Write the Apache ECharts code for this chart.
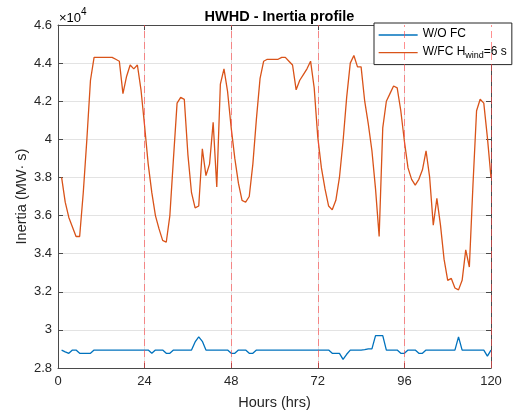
<!DOCTYPE html>
<html>
<head>
<meta charset="utf-8">
<script src="https://cdn.jsdelivr.net/npm/echarts@6/dist/echarts.min.js"></script>
<style>
  html, body { margin: 0; padding: 0; background: #ffffff; }
  #chart { width: 514px; height: 412px; }
</style>
</head>
<body>
<div id="chart"></div>
<script>
// Hourly inertia over five days (MW·s), hours 1..120
const seriesNames = ['W/O FC', 'W/FC Hwind=6 s'];

const inertiaNoFC = [
  28940, 28850, 28770, 28940, 28940, 28770, 28770, 28770, 28770, 28940,
  28940, 28940, 28940, 28940, 28940, 28940, 28940, 28940, 28940, 28940,
  28940, 28940, 28940, 28940, 28940, 28770, 28940, 28940, 28940, 28770,
  28770, 28940, 28940, 28940, 28940, 28940, 28940, 29370, 29630, 29400,
  28940, 28940, 28940, 28940, 28940, 28940, 28940, 28770, 28770, 28940,
  28940, 28940, 28770, 28770, 28940, 28940, 28940, 28940, 28940, 28940,
  28940, 28940, 28940, 28940, 28940, 28940, 28940, 28940, 28940, 28940,
  28940, 28940, 28940, 28940, 28940, 28770, 28770, 28770, 28450, 28720,
  28940, 28940, 28940, 28940, 28960, 29000, 29000, 29700, 29700, 29700,
  28940, 28940, 28940, 28940, 28770, 28770, 28940, 28940, 28940, 28770,
  28770, 28940, 28940, 28940, 28940, 28940, 28940, 28940, 28940, 28940,
  29630, 28940, 28940, 28940, 28940, 28940, 28940, 28940, 28620, 28940
];

const inertiaFC = [
  38000, 36700, 35900, 35400, 34900, 34900, 37200, 40000, 43100, 44300,
  44300, 44300, 44300, 44300, 44300, 44200, 44100, 42400, 43300, 43900,
  43700, 43900, 42600, 40700, 38700, 37200, 36000, 35300, 34700, 34600,
  36000, 39000, 41900, 42200, 42100, 39200, 37200, 36400, 36500, 39500,
  38100, 38700, 40900, 37500, 42900, 43700, 42500, 40600, 39000, 37700,
  36800, 36700, 37000, 38700, 41100, 43200, 44100, 44200, 44200, 44200,
  44200, 44300, 44300, 44100, 43900, 42600, 43100, 43400, 43700, 44100,
  42700, 40100, 38500, 37400, 36500, 36300, 36800, 38000, 39900, 42200,
  44000, 44400, 43800, 43800, 42000, 40800, 39400, 37400, 34900, 40600,
  42000, 42400, 42800, 42700, 41500, 39900, 38500, 37900, 37600, 37900,
  38400, 39400, 38000, 35500, 36900, 35500, 33700, 32600, 32700, 32200,
  32100, 32600, 34200, 33300, 37600, 41500, 42100, 41900, 40100, 38000
];

// Day boundaries (hours)
const dayMarks = [24, 48, 72, 96, 120];

const FONT = "'Liberation Sans', Arial, Helvetica, sans-serif";
const AXIS_COLOR = '#4a4a4a';
const TEXT_COLOR = '#262626';
const GRID_COLOR = '#e3e3e3';

const toPairs = arr => arr.map((v, i) => [i + 1, v]);

const chart = echarts.init(document.getElementById('chart'), null, { renderer: 'canvas' });

// Top/right axes close the box and carry inward ticks
const boxAxis = (pos) => ({
  position: pos,
  axisLine: { show: true, onZero: false, lineStyle: { color: AXIS_COLOR, width: 1 } },
  axisTick: { show: true, inside: true, length: 5, lineStyle: { color: AXIS_COLOR } },
  axisLabel: { show: false },
  splitLine: { show: false }
});

chart.setOption({
  animation: false,
  backgroundColor: '#ffffff',
  textStyle: { fontFamily: FONT },
  title: {
    text: 'HWHD - Inertia profile',
    left: 274.5,
    textAlign: 'center',
    top: 4,
    textStyle: { fontFamily: FONT, fontSize: 14.5, fontWeight: 'bold', color: '#000000' }
  },
  graphic: [{
    type: 'text',
    left: 59,
    top: 7,
    style: {
      text: '{a|×10}{b|4}',
      rich: {
        a: { fontFamily: FONT, fontSize: 13, color: TEXT_COLOR, verticalAlign: 'bottom', lineHeight: 18 },
        b: { fontFamily: FONT, fontSize: 10, color: TEXT_COLOR, verticalAlign: 'top', lineHeight: 18, padding: [0, 0, 6, 0] }
      }
    }
  }],
  grid: { left: 58, right: 23, top: 25, bottom: 44, containLabel: false, outerBoundsMode: 'none' },
  legend: {
    orient: 'vertical',
    left: 374,
    top: 23,
    data: seriesNames,
    itemWidth: 39,
    itemHeight: 14,
    itemGap: 3,
    padding: [5, 5, 5, 4],
    backgroundColor: '#ffffff',
    borderColor: '#262626',
    borderWidth: 1,
    borderRadius: 0,
    itemStyle: { opacity: 0, borderWidth: 0, color: 'transparent', borderColor: 'transparent' },
    lineStyle: { width: 1.3 },
    formatter: name => name === seriesNames[1]
      ? '{n|W/FC H}{s|wind}{n|=6 s}'
      : '{n|' + name + '}',
    textStyle: {
      fontFamily: FONT,
      fontSize: 12,
      color: '#000000',
      rich: {
        n: { fontFamily: FONT, fontSize: 12, color: '#000000', lineHeight: 14, verticalAlign: 'top' },
        s: { fontFamily: FONT, fontSize: 9, color: '#000000', lineHeight: 10, verticalAlign: 'bottom', padding: [7, 0, 0, 0] }
      }
    }
  },
  xAxis: [
    {
      type: 'value', min: 0, max: 120, interval: 24, position: 'bottom',
      axisLine: { show: true, onZero: false, lineStyle: { color: AXIS_COLOR, width: 1 } },
      axisTick: { show: true, inside: true, length: 5, lineStyle: { color: AXIS_COLOR } },
      axisLabel: { color: TEXT_COLOR, fontSize: 13, fontFamily: FONT, margin: 7 },
      splitLine: { show: true, lineStyle: { color: GRID_COLOR, width: 1 } },
      name: 'Hours (hrs)', nameLocation: 'middle', nameGap: 27, nameMoveOverlap: false,
      nameTextStyle: { color: TEXT_COLOR, fontSize: 14.5, fontFamily: FONT }
    },
    Object.assign({ type: 'value', min: 0, max: 120, interval: 24 }, boxAxis('top'))
  ],
  yAxis: [
    {
      type: 'value', min: 28000, max: 46000, interval: 2000, position: 'left',
      axisLine: { show: true, onZero: false, lineStyle: { color: AXIS_COLOR, width: 1 } },
      axisTick: { show: true, inside: true, length: 5, lineStyle: { color: AXIS_COLOR } },
      axisLabel: {
        color: TEXT_COLOR, fontSize: 13, fontFamily: FONT, margin: 6,
        formatter: v => String(+(v / 1e4).toFixed(1))
      },
      splitLine: { show: true, lineStyle: { color: GRID_COLOR, width: 1 } },
      name: 'Inertia (MW· s)', nameLocation: 'middle', nameGap: 29, nameMoveOverlap: false,
      nameTextStyle: { color: TEXT_COLOR, fontSize: 14.5, fontFamily: FONT }
    },
    Object.assign({ type: 'value', min: 28000, max: 46000, interval: 2000 }, boxAxis('right'))
  ],
  series: [
    {
      name: seriesNames[0],
      type: 'line',
      xAxisIndex: 0, yAxisIndex: 0,
      data: toPairs(inertiaNoFC),
      symbol: 'none',
      lineStyle: { color: '#0072BD', width: 1.3 },
      itemStyle: { color: '#0072BD' },
      z: 3
    },
    {
      name: seriesNames[1],
      type: 'line',
      xAxisIndex: 0, yAxisIndex: 0,
      data: toPairs(inertiaFC),
      symbol: 'none',
      lineStyle: { color: '#D95319', width: 1.3 },
      itemStyle: { color: '#D95319' },
      z: 3,
      markLine: {
        silent: true,
        symbol: ['none', 'none'],
        label: { show: false },
        lineStyle: { color: 'rgba(255, 70, 70, 0.6)', type: [7, 4], width: 1 },
        data: dayMarks.map(h => ({ xAxis: h }))
      }
    }
  ]
});
</script>
</body>
</html>
